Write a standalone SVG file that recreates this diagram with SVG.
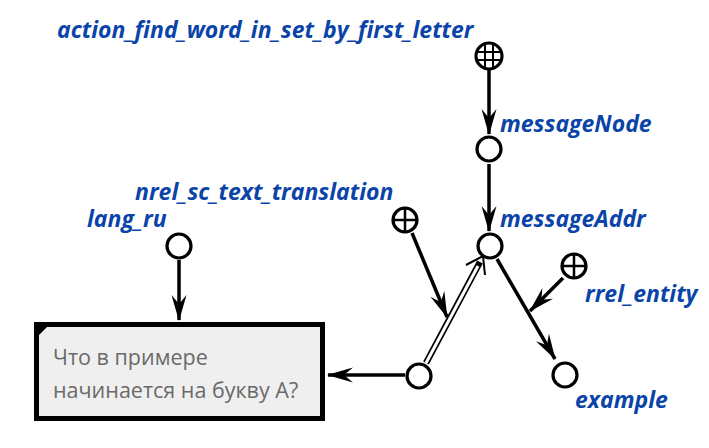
<svg xmlns="http://www.w3.org/2000/svg" width="709" height="448" viewBox="0 0 709 448">
<defs>
<style>
.lbl{font-family:"Open Sans","Noto Sans","DejaVu Sans",sans-serif;font-weight:bold;font-style:italic;font-size:23px;fill:#0a44a8}
.node{fill:#fff;stroke:#000;stroke-width:3.2}
.edge{stroke:#000;stroke-width:3.5;fill:none}
.txt{font-family:"Open Sans","Noto Sans",sans-serif;font-size:21.5px;fill:#6a6a6a}
</style>
<marker id="arr" viewBox="0 0 26 16" refX="25" refY="8" markerWidth="26" markerHeight="16" markerUnits="userSpaceOnUse" orient="auto">
<path d="M0,0.5 L26,8 L0,15.5 L9,8 z" fill="#000"/>
</marker>
</defs>
<g id="connectors">
<line class="edge" x1="489" y1="70" x2="489" y2="134" marker-end="url(#arr)"/>
<line class="edge" x1="489" y1="164" x2="489" y2="231" marker-end="url(#arr)"/>
<g id="pair-double">
<line x1="426" y1="363" x2="480" y2="262" stroke="#000" stroke-width="6.5"/>
<line x1="426" y1="363" x2="478" y2="266" stroke="#fff" stroke-width="3"/>
<path d="M466,265 L483,256 L485,275" fill="none" stroke="#000" stroke-width="2"/>
</g>
<line class="edge" x1="412" y1="233" x2="447" y2="317" marker-end="url(#arr)"/>
<line class="edge" x1="497" y1="259" x2="555" y2="359" marker-end="url(#arr)"/>
<line class="edge" x1="563" y1="278" x2="530" y2="311" marker-end="url(#arr)"/>
<line class="edge" x1="405" y1="375" x2="328" y2="375" marker-end="url(#arr)"/>
<line class="edge" x1="179" y1="260" x2="179" y2="320" marker-end="url(#arr)"/>
</g>
<g id="action">
<circle class="node" cx="489" cy="56" r="13"/>
<path d="M478,52 H500 M478,60 H500 M485,45 V67 M493,45 V67" stroke="#000" stroke-width="2"/>
<text class="lbl" x="57" y="38">action_find_word_in_set_by_first_letter</text>
</g>
<g id="messageNode">
<circle class="node" cx="489" cy="149" r="12"/>
<text class="lbl" x="500" y="132">messageNode</text>
</g>
<g id="messageAddr">
<circle class="node" cx="490" cy="246" r="12"/>
<text class="lbl" x="500" y="227">messageAddr</text>
</g>
<g id="nrel">
<circle class="node" cx="405" cy="220" r="12"/>
<path d="M393,220 H417 M405,208 V232" stroke="#000" stroke-width="2.5"/>
<text class="lbl" x="135" y="200">nrel_sc_text_translation</text>
</g>
<g id="rrel">
<circle class="node" cx="574" cy="266" r="12"/>
<path d="M562,266 H586 M574,254 V278" stroke="#000" stroke-width="2.5"/>
<text class="lbl" x="585" y="302">rrel_entity</text>
</g>
<g id="example">
<circle class="node" cx="565" cy="375" r="12"/>
<text class="lbl" x="575" y="408">example</text>
</g>
<g id="pair">
<circle class="node" cx="419" cy="376" r="12"/>
</g>
<g id="lang_ru">
<circle class="node" cx="179" cy="246" r="12"/>
<text class="lbl" x="87" y="227">lang_ru</text>
</g>
<g id="content">
<rect x="36.5" y="324.5" width="286" height="94" fill="#efefef" stroke="#000" stroke-width="5"/>
<path d="M39,327 L47,327 L39,335 z" fill="#000"/>
<text class="txt" x="53" y="365">Что в примере</text>
<text class="txt" x="53" y="398">начинается на букву А?</text>
</g>
</svg>
